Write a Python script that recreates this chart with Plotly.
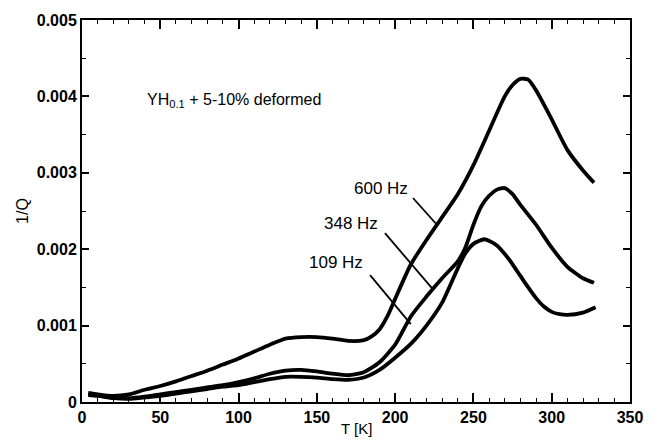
import plotly.graph_objects as go

# ---- data ----
T_600 = [4, 10, 20, 30, 40, 50, 60, 70, 80, 90, 100, 110, 120, 130, 140, 150, 160, 170, 180, 185, 190, 195,
         200, 210, 220, 230, 240, 250, 260, 270, 275, 280, 285, 290, 300, 310, 320, 327]
Q_600 = [0.00012, 0.00010, 0.00008, 0.00010, 0.00016, 0.00021, 0.00027, 0.00034, 0.00041, 0.00049, 0.00057,
         0.00066, 0.00075, 0.00083, 0.00085, 0.00085, 0.00083, 0.00080, 0.00081, 0.00086, 0.00095, 0.00112,
         0.00135, 0.00180, 0.00212, 0.00242, 0.00272, 0.00310, 0.00355, 0.00400, 0.00415, 0.00423, 0.00422,
         0.00408, 0.00370, 0.00330, 0.00303, 0.00287]

T_348 = [4, 10, 20, 30, 40, 50, 60, 70, 80, 90, 100, 110, 120, 130, 140, 150, 160, 170, 180, 190, 200, 210,
         220, 230, 240, 245, 250, 255, 260, 265, 270, 275, 280, 290, 300, 310, 320, 327]
Q_348 = [0.00010, 0.00009, 0.00006, 0.00005, 0.00007, 0.00010, 0.00013, 0.00016, 0.00019, 0.00022, 0.00026,
         0.00031, 0.00037, 0.00041, 0.00042, 0.00040, 0.00037, 0.00035, 0.00039, 0.00052, 0.00075, 0.00112,
         0.00138, 0.00162, 0.00184, 0.00203, 0.00232, 0.00256, 0.00270, 0.00278, 0.00280, 0.00272, 0.00258,
         0.00232, 0.00202, 0.00177, 0.00162, 0.00156]

T_109 = [4, 10, 20, 30, 40, 50, 60, 70, 80, 90, 100, 110, 120, 130, 140, 150, 160, 170, 180, 190, 200, 210,
         220, 230, 240, 245, 250, 257, 265, 273, 280, 285, 290, 295, 300, 305, 310, 320, 328]
Q_109 = [0.00009, 0.00008, 0.00005, 0.00004, 0.00006, 0.00008, 0.00011, 0.00014, 0.00017, 0.00020, 0.00022,
         0.00026, 0.00030, 0.00033, 0.00033, 0.00032, 0.00030, 0.00029, 0.00032, 0.00042, 0.00058, 0.00076,
         0.00100, 0.00130, 0.00175, 0.00195, 0.00207, 0.00213, 0.00205, 0.00186, 0.00165, 0.00150, 0.00136,
         0.00125, 0.00118, 0.00115, 0.00114, 0.00117, 0.00124]

labels = ["600 Hz", "348 Hz", "109 Hz"]
label_pos = [(209.5, 0.00280), (190.3, 0.00234), (180.7, 0.00182)]
leader_start = [(211.4, 0.00267), (193.5, 0.00221), (184.0, 0.00166)]
leader_end = [(226.7, 0.00232), (223.5, 0.00149), (210.0, 0.00102)]

x_ticks = [0, 50, 100, 150, 200, 250, 300, 350]
y_ticks = [0, 0.001, 0.002, 0.003, 0.004, 0.005]
y_tick_text = ["0", "0.001", "0.002", "0.003", "0.004", "0.005"]
x_title = "T [K]"
y_title = "1/Q"

FONT = "Liberation Sans, Arial, sans-serif"

fig = go.Figure()
for T, Q in [(T_600, Q_600), (T_348, Q_348), (T_109, Q_109)]:
    fig.add_trace(go.Scatter(x=T, y=Q, mode="lines",
                             line=dict(color="black", width=3.8, shape="spline", smoothing=0.6),
                             showlegend=False, hoverinfo="skip"))

annotations = []
shapes = []
for lab, (lx, ly), (sx, sy), (ex, ey) in zip(labels, label_pos, leader_start, leader_end):
    annotations.append(dict(x=lx, y=ly, xref="x", yref="y", text=lab, showarrow=False, xanchor="right",
                            yanchor="middle", font=dict(family=FONT, size=17, color="black")))
    shapes.append(dict(type="line", xref="x", yref="y", x0=sx, y0=sy, x1=ex, y1=ey,
                       line=dict(color="black", width=1.8)))

annotations.append(dict(x=40, y=0.00395, xref="x", yref="y", xanchor="left", yanchor="middle", showarrow=False,
                        text="YH<sub>0.1</sub> + 5-10% deformed", font=dict(family=FONT, size=16, color="black")))
# x-axis title placed in the bottom margin
annotations.append(dict(x=0.5, y=-0.098, xref="paper", yref="paper", xanchor="center", yanchor="bottom",
                        showarrow=False, text=x_title, font=dict(family=FONT, size=15, color="black")))

fig.update_layout(
    width=655, height=442,
    margin=dict(l=82, r=25, t=20, b=40),
    paper_bgcolor="white", plot_bgcolor="white",
    font=dict(family=FONT, size=16, color="black"),
    annotations=annotations,
    shapes=shapes,
    xaxis=dict(range=[0, 350], tickvals=x_ticks, ticks="inside", ticklen=9, tickwidth=1.5, tickcolor="black",
               showline=True, linecolor="black", linewidth=2, mirror="allticks", showgrid=False, zeroline=False,
               automargin=False, ticklabelstandoff=0,
               tickfont=dict(family=FONT, size=16, color="black", weight="bold"),
               minor=dict(dtick=10, ticks="inside", ticklen=4, tickcolor="black", tickwidth=1)),
    yaxis=dict(range=[0, 0.005], tickvals=y_ticks, ticktext=y_tick_text, ticks="inside", ticklen=7, tickwidth=1.5,
               tickcolor="black", showline=True, linecolor="black", linewidth=2, mirror="allticks", showgrid=False,
               zeroline=False, automargin=False,
               tickfont=dict(family=FONT, size=16, color="black", weight="bold"),
               minor=dict(dtick=0.0005, ticks="inside", ticklen=4, tickcolor="black", tickwidth=1),
               title=dict(text=y_title, standoff=4, font=dict(family=FONT, size=16, color="black"))),
)

fig.write_html("out.html", config={"displayModeBar": False},
               post_script="document.body.style.margin='0';document.body.style.overflow='hidden';")
